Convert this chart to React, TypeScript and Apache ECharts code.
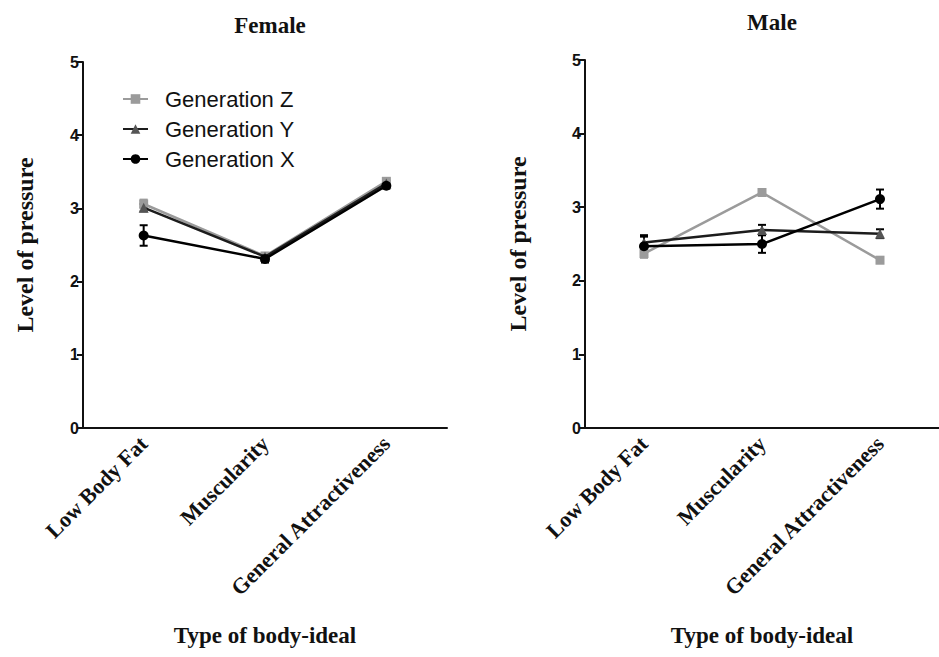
import React, { useEffect, useRef } from "react";
import * as echarts from "echarts";

const categories = ["Low Body Fat", "Muscularity", "General Attractiveness"];
const seriesNames = ["Generation Z", "Generation Y", "Generation X"];

const femaleZ = [3.06, 2.35, 3.37];
const femaleY = [3.01, 2.34, 3.34];
const femaleX = [2.63, 2.31, 3.31];
const femaleZErr = [0.06, 0.04, 0.04];
const femaleYErr = [0.05, 0.04, 0.04];
const femaleXErr = [0.14, 0.05, 0.04];

const maleZ = [2.37, 3.2, 2.28];
const maleY = [2.52, 2.69, 2.64];
const maleX = [2.47, 2.5, 3.11];
const maleZErr = [0.05, 0.03, 0.04];
const maleYErr = [0.08, 0.07, 0.06];
const maleXErr = [0.15, 0.12, 0.13];

const panelTitles = ["Female", "Male"];
const xAxisTitle = "Type of body-ideal";
const yAxisTitle = "Level of pressure";

const SERIF = '"Liberation Serif", "Times New Roman", serif';
const SANS = '"Liberation Sans", Arial, sans-serif';

const lineColors = ["#9b9b9b", "#1c1c1c", "#000000"];
const markerColors = ["#9b9b9b", "#555555", "#000000"];
const symbols = ["rect", "triangle", "circle"];
const symbolSizes = [9, 10, 10];

export default function App() {
  const ref = useRef<HTMLDivElement>(null);

  useEffect(() => {
    if (!ref.current) return;
    const chart = echarts.init(ref.current, undefined, { renderer: "svg" });

    const panels = [
      { vals: [femaleZ, femaleY, femaleX], errs: [femaleZErr, femaleYErr, femaleXErr] },
      { vals: [maleZ, maleY, maleX], errs: [maleZErr, maleYErr, maleXErr] },
    ];

    const grids = [
      { left: 83, top: 62, width: 364, height: 366 },
      { left: 585, top: 60, width: 364, height: 368 },
    ];

    const xAxes = grids.map((_, i) => ({
      type: "category",
      gridIndex: i,
      data: categories,
      boundaryGap: true,
      axisLine: { lineStyle: { color: "#111", width: 2 } },
      axisTick: { alignWithLabel: true, length: 6, lineStyle: { width: 2, color: "#111" } },
      axisLabel: {
        rotate: 45,
        interval: 0,
        margin: 12,
        color: "#111",
        fontFamily: SERIF,
        fontWeight: "bold",
        fontSize: 22,
      },
      name: xAxisTitle,
      nameLocation: "middle",
      nameGap: 196,
      nameTextStyle: { fontFamily: SERIF, fontWeight: "bold", fontSize: 23, color: "#111" },
    }));

    const yAxes = grids.map((_, i) => ({
      type: "value",
      gridIndex: i,
      min: 0,
      max: 5,
      interval: 1,
      splitLine: { show: false },
      axisLine: { show: true, lineStyle: { color: "#111", width: 2 } },
      axisTick: { show: true, length: 6, lineStyle: { width: 2, color: "#111" } },
      axisLabel: {
        margin: 4,
        color: "#111",
        fontFamily: SANS,
        fontWeight: "bold",
        fontSize: 16,
      },
      name: yAxisTitle,
      nameLocation: "middle",
      nameRotate: 90,
      nameGap: i === 0 ? 46 : 55,
      nameTextStyle: { fontFamily: SERIF, fontWeight: "bold", fontSize: 24, color: "#111" },
    }));

    const series: any[] = [];
    panels.forEach((p, pi) => {
      p.vals.forEach((vals, si) => {
        const errs = p.errs[si];
        series.push({
          type: "custom",
          name: seriesNames[si] + " err",
          xAxisIndex: pi,
          yAxisIndex: pi,
          silent: true,
          z: 1,
          data: vals.map((v, k) => [k, v - errs[k], v + errs[k]]),
          renderItem: (params: any, api: any) => {
            const x = api.value(0);
            const lo = api.coord([x, api.value(1)]);
            const hi = api.coord([x, api.value(2)]);
            const w = 4;
            const st = { stroke: si === 0 ? "#9b9b9b" : "#000", lineWidth: 2 };
            return {
              type: "group",
              children: [
                { type: "line", shape: { x1: lo[0], y1: lo[1], x2: hi[0], y2: hi[1] }, style: st },
                { type: "line", shape: { x1: lo[0] - w, y1: lo[1], x2: lo[0] + w, y2: lo[1] }, style: st },
                { type: "line", shape: { x1: hi[0] - w, y1: hi[1], x2: hi[0] + w, y2: hi[1] }, style: st },
              ],
            };
          },
        });
        series.push({
          type: "line",
          name: seriesNames[si],
          xAxisIndex: pi,
          yAxisIndex: pi,
          data: vals,
          z: 2 + si,
          symbol: symbols[si],
          symbolSize: symbolSizes[si],
          showSymbol: true,
          lineStyle: { color: lineColors[si], width: 2.5 },
          itemStyle: { color: markerColors[si] },
        });
      });
    });

    chart.setOption({
      animation: false,
      backgroundColor: "#ffffff",
      title: panelTitles.map((t, i) => ({
        text: t,
        left: i === 0 ? 265 : 767,
        top: i === 0 ? 9 : 6,
        textAlign: "center",
        textStyle: { fontFamily: SERIF, fontWeight: "bold", fontSize: 23, color: "#111" },
      })),
      legend: {
        data: seriesNames,
        orient: "vertical",
        left: 117,
        top: 83,
        itemWidth: 25,
        itemHeight: 12,
        itemGap: 8,
        textStyle: {
          fontFamily: SANS,
          fontSize: 22,
          color: "#111",
          padding: [0, 0, 0, 12],
          lineHeight: 22,
        },
      },
      grid: grids,
      xAxis: xAxes,
      yAxis: yAxes,
      series,
    });

    return () => chart.dispose();
  }, []);

  return (
    <div
      ref={ref}
      style={{ position: "fixed", left: 0, top: 0, width: 939, height: 657, background: "#fff" }}
    />
  );
}
